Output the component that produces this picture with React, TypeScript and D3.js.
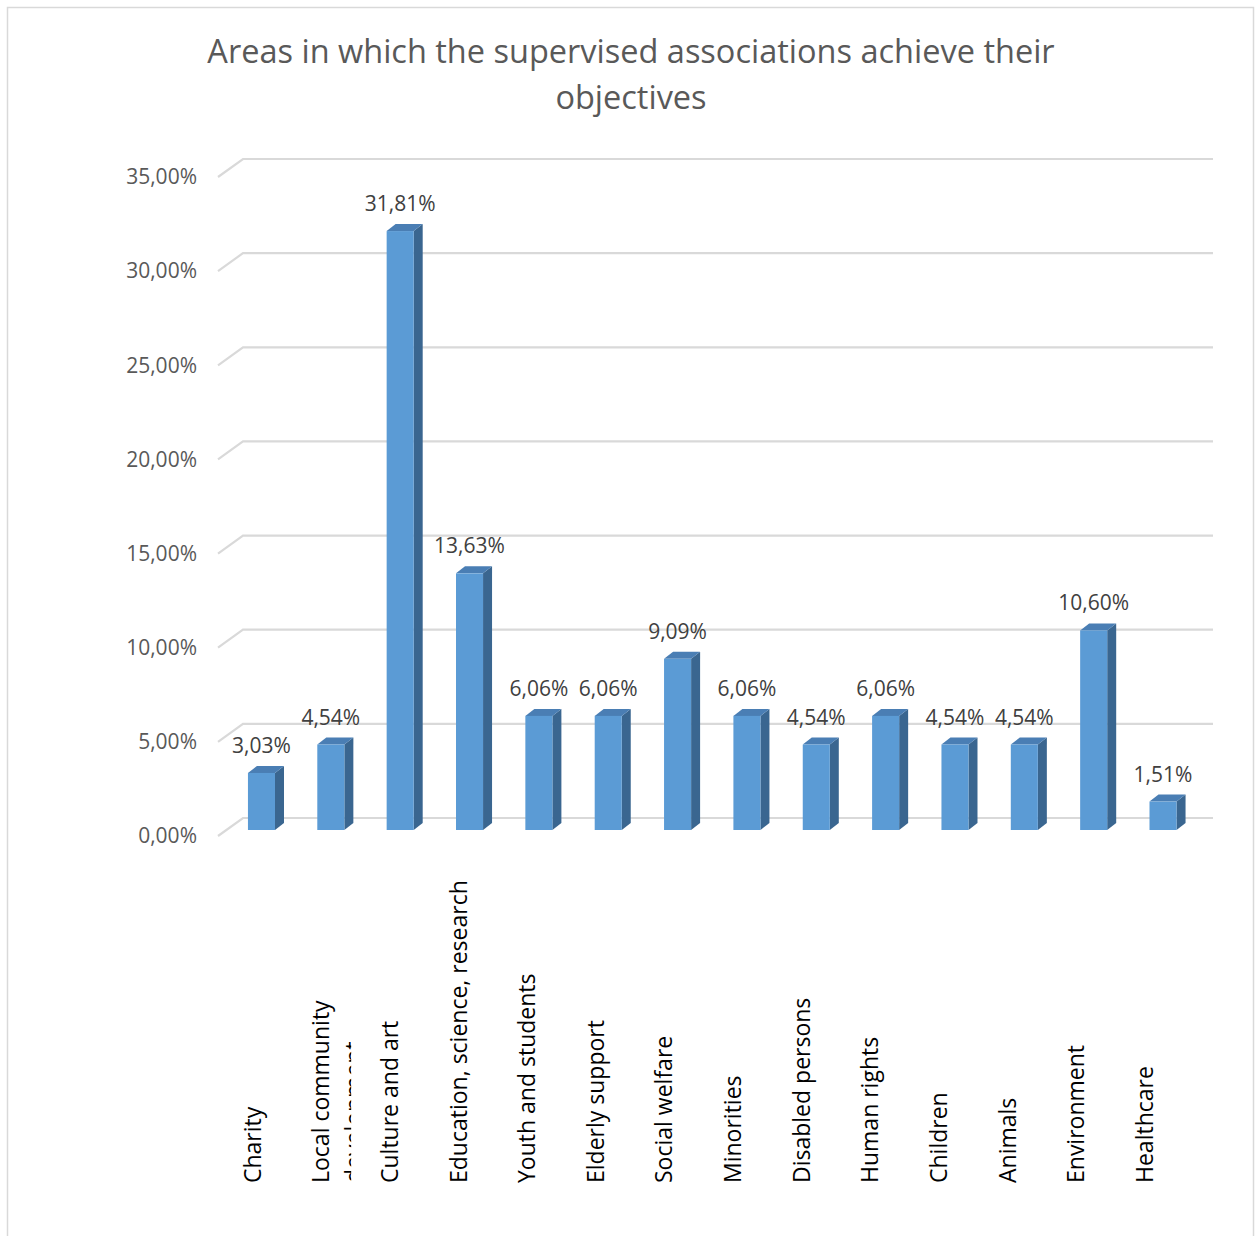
import React, { useEffect, useRef } from "react";
import * as d3 from "d3";

const categories = [
  "Charity",
  "Local community development",
  "Culture and art",
  "Education, science, research",
  "Youth and students",
  "Elderly support",
  "Social welfare",
  "Minorities",
  "Disabled persons",
  "Human rights",
  "Children",
  "Animals",
  "Environment",
  "Healthcare",
];
const values = [3.03, 4.54, 31.81, 13.63, 6.06, 6.06, 9.09, 6.06, 4.54, 6.06, 4.54, 4.54, 10.6, 1.51];
const yTicks = [0, 5, 10, 15, 20, 25, 30, 35];
const titleLines = ["Areas in which the supervised associations achieve their", "objectives"];

const W = 1257;
const H = 1236;
const FONT = "'Open Sans', 'Noto Sans', sans-serif";
const fmt = (v: number) => v.toFixed(2).replace(".", ",") + "%";

export default function App() {
  const ref = useRef<SVGSVGElement>(null);

  useEffect(() => {
    const svg = d3.select(ref.current);
    svg.selectAll("*").remove();

    // chart border
    svg.append("rect").attr("x", 7.5).attr("y", 7.5).attr("width", 1246).attr("height", 1260)
      .attr("fill", "#fff").attr("stroke", "#d9d9d9").attr("stroke-width", 1.5);

    // title
    const title = svg.append("text").attr("text-anchor", "middle").attr("fill", "#595959")
      .style("font-family", FONT).style("font-size", "32.5px");
    titleLines.forEach((t, i) => {
      title.append("tspan").attr("x", 631).attr("y", 63 + i * 46).text(t);
    });

    const y = d3.scaleLinear().domain([0, 35]).range([818, 159]);
    const x = d3.scaleBand<string>().domain(categories).range([226.8, 1197.7])
      .paddingInner(0.61).paddingOuter(0.305);
    const xLabel = d3.scalePoint<string>().domain(categories).range([252.5, 1145]);

    const backX0 = 243, backX1 = 1213, depthX = 25, depthY = 18;
    const barFrontOffset = 12;
    const bdx = 9, bdy = -7;

    // gridlines
    const grid = svg.append("g");
    yTicks.forEach((t) => {
      const yy = y(t);
      grid.append("path")
        .attr("d", `M${backX0 - depthX},${yy + depthY}L${backX0},${yy}L${backX1},${yy}`)
        .attr("fill", "none").attr("stroke", "#d9d9d9").attr("stroke-width", 2.2);
      grid.append("text").attr("x", 197).attr("y", yy + depthY).attr("dy", "0.35em")
        .attr("text-anchor", "end").attr("fill", "#595959")
        .style("font-family", FONT).style("font-size", "21px").text(fmt(t));
    });

    // bars
    const bars = svg.append("g");
    categories.forEach((c, i) => {
      const v = values[i];
      const x0 = x(c)!;
      const bw = x.bandwidth();
      const x1 = x0 + bw;
      const yb = y(0) + barFrontOffset;
      const yt = y(v) + barFrontOffset;
      const g = bars.append("g");
      g.append("path")
        .attr("d", `M${x1},${yb}L${x1 + bdx},${yb + bdy}L${x1 + bdx},${yt + bdy}L${x1},${yt}Z`)
        .attr("fill", "#3a6690");
      g.append("path")
        .attr("d", `M${x0},${yt}L${x0 + bdx},${yt + bdy}L${x1 + bdx},${yt + bdy}L${x1},${yt}Z`)
        .attr("fill", "#4a7eb4");
      g.append("rect").attr("x", x0).attr("y", yt).attr("width", bw).attr("height", yb - yt)
        .attr("fill", "#5b9bd5");
      g.append("text").attr("x", x0 + bw / 2).attr("y", yt + bdy - 13)
        .attr("text-anchor", "middle").attr("fill", "#404040")
        .style("font-family", FONT).style("font-size", "21px").text(fmt(v));
    });

    // category labels (rotated, wrapped, clipped per slot)
    const defs = svg.append("defs");
    const labels = svg.append("g");
    const maxLen = 312;
    const labelBottom = 1183;
    categories.forEach((c, i) => {
      const cx = xLabel(c)!;
      const clipId = `clip-${i}`;
      defs.append("clipPath").attr("id", clipId).append("rect")
        .attr("x", cx - 36).attr("y", 850).attr("width", 66).attr("height", 360);
      const holder = labels.append("g").attr("clip-path", `url(#${clipId})`);
      const t = holder.append("text")
        .attr("transform", `translate(${cx},${labelBottom}) rotate(-90)`)
        .attr("fill", "#000").style("font-family", FONT).style("font-size", "23px");
      const words = c.split(" ");
      const lines: string[] = [];
      let cur: string[] = [];
      const probe = t.append("tspan");
      words.forEach((w) => {
        const test = [...cur, w].join(" ");
        probe.text(test);
        const len = (probe.node() as SVGTextContentElement).getComputedTextLength();
        if (len > maxLen && cur.length) {
          lines.push(cur.join(" "));
          cur = [w];
        } else cur.push(w);
      });
      if (cur.length) lines.push(cur.join(" "));
      probe.remove();
      lines.forEach((ln, k) => {
        t.append("tspan").attr("x", 0).attr("y", k * 33).attr("dy", "0.35em").text(ln);
      });
    });
  }, []);

  return (
    <svg ref={ref} width={W} height={H} style={{ position: "absolute", left: 0, top: 0, background: "#fff" }} />
  );
}
